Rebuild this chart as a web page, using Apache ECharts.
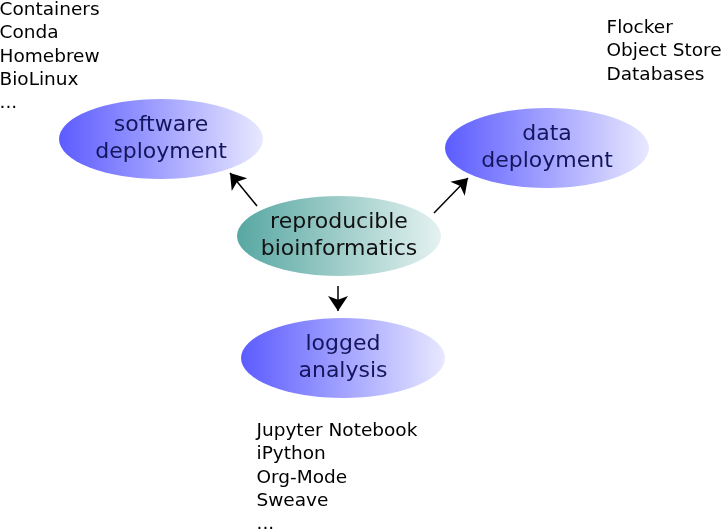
<!DOCTYPE html>
<html>
<head>
<meta charset="utf-8">
<script src="https://cdn.jsdelivr.net/npm/echarts@6/dist/echarts.min.js"></script>
<style>
html, body { margin: 0; padding: 0; background: #fff; }
#main { width: 722px; height: 529px; }
</style>
</head>
<body>
<div id="main"></div>
<script>
// nodes of the diagram (centre in page pixels)
var nodeNames = ['software\ndeployment', 'data\ndeployment', 'reproducible\nbioinformatics', 'logged\nanalysis'];
var nodeX = [161, 547, 339, 343];
var nodeY = [139, 148, 236, 358];
var nodeKind = ['blue', 'blue', 'teal', 'blue'];

// arrows: [fromX, fromY, toX, toY]
var arrowFrom = [[257, 206], [434, 213], [338, 286]];
var arrowTo = [[230, 173], [468, 178], [338, 311]];

// tool lists
var softwareList = ['Containers', 'Conda', 'Homebrew', 'BioLinux', '...'];
var dataList = ['Flocker', 'Object Store', 'Databases'];
var analysisList = ['Jupyter Notebook', 'iPython', 'Org-Mode', 'Sweave', '...'];
var listAnchors = [[0, 0], [607, 18], [257, 421]];

var fills = {
    blue: new echarts.graphic.LinearGradient(0, 0, 1, 0, [
        {offset: 0, color: '#5c5cff'},
        {offset: 1, color: '#e8e8ff'}
    ]),
    teal: new echarts.graphic.LinearGradient(0, 0, 1, 0, [
        {offset: 0, color: '#58a7a2'},
        {offset: 1, color: '#e4f2f0'}
    ])
};
var textColors = {blue: '#15155e', teal: '#111111'};

var chart = echarts.init(document.getElementById('main'));

var nodeData = nodeNames.map(function (n, i) {
    return {
        name: n,
        value: [nodeX[i], nodeY[i]],
        itemStyle: {color: fills[nodeKind[i]], opacity: 1},
        label: {color: textColors[nodeKind[i]]}
    };
});

var arrowData = arrowFrom.map(function (f, i) {
    return {coords: [f, arrowTo[i]]};
});

var lists = [softwareList, dataList, analysisList];
var listData = lists.map(function (l, i) {
    return {name: l.join('\n'), value: listAnchors[i]};
});

var option = {
    animation: false,
    grid: {left: 0, right: 0, top: 0, bottom: 0},
    xAxis: {type: 'value', min: 0, max: 722, show: false},
    yAxis: {type: 'value', min: 0, max: 529, inverse: true, show: false},
    series: [{
        type: 'scatter',
        symbol: 'circle',
        symbolSize: [204, 80],
        data: nodeData,
        itemStyle: {opacity: 1},
        label: {
            show: true,
            position: 'inside',
            formatter: '{b}',
            fontFamily: 'DejaVu Sans',
            fontSize: 22,
            lineHeight: 27
        },
        emphasis: {disabled: true}
    }, {
        type: 'lines',
        coordinateSystem: 'cartesian2d',
        symbol: ['none', 'arrow'],
        symbolSize: [11, 15],
        lineStyle: {color: '#000', width: 1.5, opacity: 1, curveness: 0},
        data: arrowData,
        silent: true
    }, {
        type: 'scatter',
        symbolSize: 1,
        clip: false,
        itemStyle: {color: 'rgba(0,0,0,0)', opacity: 1},
        data: listData,
        label: {
            show: true,
            position: [0, -1],
            align: 'left',
            verticalAlign: 'top',
            formatter: '{b}',
            color: '#000',
            fontFamily: 'DejaVu Sans',
            fontSize: 18.5,
            lineHeight: 23.3
        },
        emphasis: {disabled: true},
        silent: true
    }]
};
chart.setOption(option);
</script>
</body>
</html>
